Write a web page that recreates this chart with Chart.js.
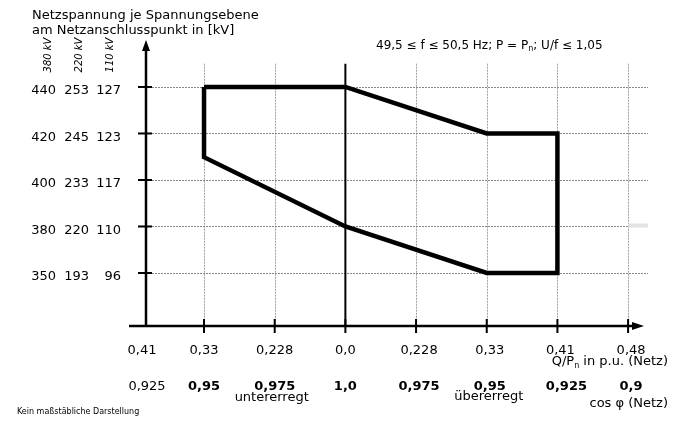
<!DOCTYPE html>
<html>
<head>
<meta charset="utf-8">
<script src="https://cdn.jsdelivr.net/npm/chart.js@4/dist/chart.umd.min.js"></script>
<style>
  body { margin: 0; background: #fff; }
  #wrap { width: 678px; height: 431px; }
</style>
</head>
<body>
<div id="wrap"><canvas id="chart" width="678" height="431"></canvas></div>
<script>
// ===== Data =====
// schematic, not to scale: each tick sits at an equally spaced position
let qTicks = ["0,33", "0,228", "0,0", "0,228", "0,33", "0,41", "0,48"];   // positions 1..7
let cosTicks = ["0,95", "0,975", "1,0", "0,975", "0,95", "0,925", "0,9"];
let qAxisStart = "0,41";
let cosAxisStart = "0,925";

let kv380 = ["350", "380", "400", "420", "440"];   // voltage positions 0..4
let kv220 = ["193", "220", "233", "245", "253"];
let kv110 = ["96", "110", "117", "123", "127"];

// PQ-U area outline (x = Q position, y = voltage position)
let areaX = [1, 3, 5, 6, 6, 5, 3, 1, 1];
let areaY = [4, 4, 3, 3, 0, 0, 1, 2.49, 4];

// ===== Fonts =====
let FONT = "'DejaVu Sans', Verdana, sans-serif";

// ===== Decorations plugin =====
let schematic = {
  id: "schematic",
  beforeDatasetsDraw(chart) {
    let ctx = chart.ctx;
    let x = chart.scales.x, y = chart.scales.y;
    let top = y.getPixelForValue(4.5);
    let x0 = x.getPixelForValue(x.min);
    let yBase = y.getPixelForValue(y.min);
    let xEnd = x.getPixelForValue(x.max) - 2;

    ctx.save();
    ctx.lineWidth = 1;
    ctx.setLineDash([2, 1]);

    // vertical grid
    ctx.strokeStyle = "#a0a0a0";
    for (let i = 1; i <= qTicks.length; i++) {
      if (i === 3) continue;
      let px = Math.round(x.getPixelForValue(i)) + 0.5;
      ctx.beginPath();
      ctx.moveTo(px, top);
      ctx.lineTo(px, yBase);
      ctx.stroke();
    }

    // horizontal grid
    ctx.strokeStyle = "#888";
    for (let j = 0; j < kv380.length; j++) {
      let py = Math.round(y.getPixelForValue(j)) + 0.5;
      ctx.beginPath();
      ctx.moveTo(x0 + 6, py);
      ctx.lineTo(xEnd, py);
      ctx.stroke();
    }
    ctx.setLineDash([]);

    // grey mark on the right
    ctx.fillStyle = "#e2e2e2";
    let gy = y.getPixelForValue(1);
    ctx.fillRect(x.getPixelForValue(7), gy - 3, xEnd - x.getPixelForValue(7), 4);

    // Q = 0 line
    ctx.strokeStyle = "#000";
    ctx.lineWidth = 2;
    let p0 = x.getPixelForValue(3);
    ctx.beginPath();
    ctx.moveTo(p0, top);
    ctx.lineTo(p0, yBase);
    ctx.stroke();
    ctx.restore();
  },
  afterDraw(chart) {
    let ctx = chart.ctx;
    let x = chart.scales.x, y = chart.scales.y;
    let x0 = x.getPixelForValue(x.min);
    let yBase = y.getPixelForValue(y.min);
    let yTop = y.getPixelForValue(y.max);
    let xArrow = x.getPixelForValue(x.max) - 8;

    ctx.save();
    ctx.strokeStyle = "#000";
    ctx.fillStyle = "#000";
    ctx.lineWidth = 2.5;

    // y axis + arrow
    ctx.beginPath();
    ctx.moveTo(x0, yBase + 1);
    ctx.lineTo(x0, yTop + 8);
    ctx.stroke();
    ctx.beginPath();
    ctx.moveTo(x0, yTop);
    ctx.lineTo(x0 - 4, yTop + 11);
    ctx.lineTo(x0 + 4, yTop + 11);
    ctx.closePath();
    ctx.fill();

    // x axis + arrow
    ctx.beginPath();
    ctx.moveTo(x0 - 17, yBase);
    ctx.lineTo(xArrow - 8, yBase);
    ctx.stroke();
    ctx.beginPath();
    ctx.moveTo(xArrow + 2, yBase);
    ctx.lineTo(xArrow - 10, yBase - 4);
    ctx.lineTo(xArrow - 10, yBase + 4);
    ctx.closePath();
    ctx.fill();

    // tick marks
    ctx.lineWidth = 2;
    for (let i = 1; i <= qTicks.length; i++) {
      let px = x.getPixelForValue(i);
      ctx.beginPath();
      ctx.moveTo(px, yBase - 7);
      ctx.lineTo(px, yBase + 7);
      ctx.stroke();
    }
    for (let j = 0; j < kv380.length; j++) {
      let py = y.getPixelForValue(j);
      ctx.beginPath();
      ctx.moveTo(x0 - 8, py);
      ctx.lineTo(x0 + 6, py);
      ctx.stroke();
    }

    // y labels (three voltage levels)
    ctx.font = "13px " + FONT;
    ctx.textAlign = "right";
    ctx.textBaseline = "middle";
    for (let j = 0; j < kv380.length; j++) {
      let py = y.getPixelForValue(j) + 4;
      ctx.fillText(kv380[j], 56, py);
      ctx.fillText(kv220[j], 89, py);
      ctx.fillText(kv110[j], 121, py);
    }

    // rotated level headers
    ctx.font = "italic 10px " + FONT;
    ctx.textAlign = "center";
    [["380 kV", 48], ["220 kV", 79], ["110 kV", 110]].forEach(h => {
      ctx.save();
      ctx.translate(h[1], 55);
      ctx.rotate(-Math.PI / 2);
      ctx.fillText(h[0], 0, 0);
      ctx.restore();
    });

    // title
    ctx.textAlign = "left";
    ctx.textBaseline = "alphabetic";
    ctx.font = "13px " + FONT;
    ctx.fillText("Netzspannung je Spannungsebene", 32, 19);
    ctx.fillText("am Netzanschlusspunkt in [kV]", 32, 34);

    // conditions text
    ctx.font = "12px " + FONT;
    let cx = 376, cy = 49;
    let s1 = "49,5 \u2264 f \u2264 50,5 Hz; P = P";
    ctx.fillText(s1, cx, cy);
    cx += ctx.measureText(s1).width;
    ctx.font = "8px " + FONT;
    ctx.fillText("n", cx, cy + 2);
    cx += ctx.measureText("n").width;
    ctx.font = "12px " + FONT;
    ctx.fillText("; U/f \u2264 1,05", cx, cy);

    // x labels
    ctx.textAlign = "center";
    ctx.textBaseline = "middle";
    let row1 = yBase + 25, row2 = yBase + 61;
    ctx.font = "13px " + FONT;
    ctx.fillText(qAxisStart, x0 - 4, row1);
    ctx.fillText(cosAxisStart, x0 + 1, row2);
    for (let i = 1; i <= qTicks.length; i++) {
      let px = x.getPixelForValue(i) + (i > 3 ? 3 : 0);
      ctx.font = "13px " + FONT;
      ctx.fillText(qTicks[i - 1], px, row1);
      ctx.font = "bold 13px " + FONT;
      ctx.fillText(cosTicks[i - 1], px + (i === 6 ? 6 : 0), row2);
    }
    ctx.font = "13px " + FONT;
    ctx.fillText("untererregt", x.getPixelForValue(2) - 3, yBase + 72);
    ctx.fillText("\u00fcbererregt", x.getPixelForValue(5) + 2, yBase + 71);

    // axis titles
    ctx.textAlign = "right";
    ctx.textBaseline = "alphabetic";
    let ax = 668, ay = yBase + 39;
    ctx.fillText(" in p.u. (Netz)", ax, ay);
    let w = ctx.measureText(" in p.u. (Netz)").width;
    ctx.font = "8px " + FONT;
    ctx.fillText("n", ax - w, ay + 3);
    w += ctx.measureText("n").width;
    ctx.font = "13px " + FONT;
    ctx.fillText("Q/P", ax - w, ay);
    ctx.fillText("cos \u03c6 (Netz)", 668, yBase + 81);

    ctx.textAlign = "left";
    ctx.font = "8px " + FONT;
    ctx.fillText("Kein ma\u00dfst\u00e4bliche Darstellung", 17, 414);
    ctx.restore();
  }
};

// ===== Chart =====
let chart = new Chart(document.getElementById("chart").getContext("2d"), {
  type: "scatter",
  data: {
    datasets: [{
      data: areaX.map((v, k) => ({ x: v, y: areaY[k] })),
      showLine: true,
      borderColor: "#000",
      borderWidth: 4.5,
      pointRadius: 0,
      borderJoinStyle: "miter",
      tension: 0
    }]
  },
  options: {
    responsive: false,
    animation: false,
    devicePixelRatio: 1,
    layout: { padding: { left: 146, right: 28, top: 40, bottom: 105 } },
    plugins: { legend: { display: false }, tooltip: { enabled: false } },
    scales: {
      x: { type: "linear", min: 0.179, max: 7.31, display: false },
      y: { type: "linear", min: -1.14, max: 5.01, display: false }
    }
  },
  plugins: [schematic]
});
</script>
</body>
</html>
